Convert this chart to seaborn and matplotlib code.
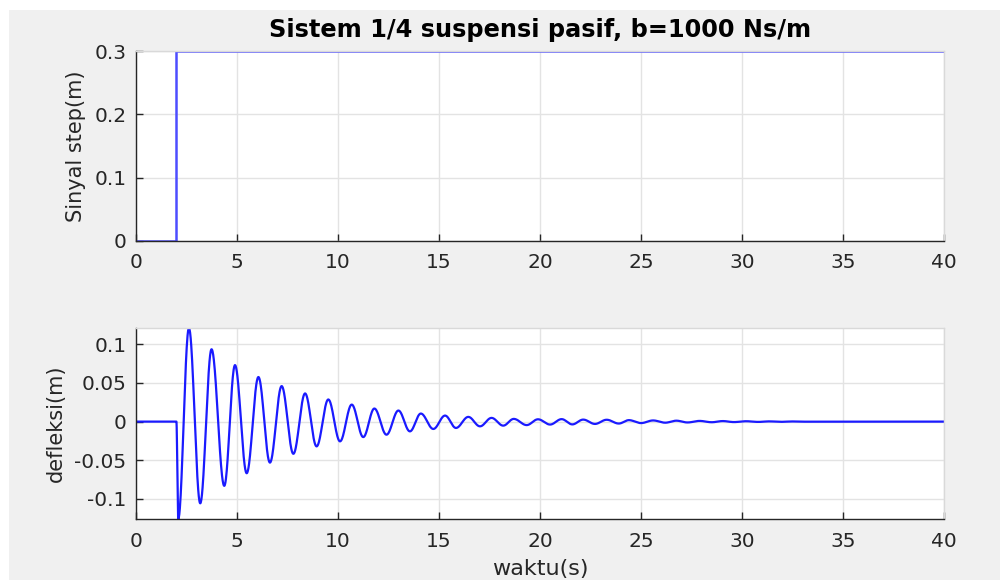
import numpy as np
import pandas as pd
import matplotlib
matplotlib.use("Agg")
import matplotlib.pyplot as plt
from matplotlib.patches import Rectangle
import seaborn as sns

# Step input (road profile)
step_time = [0.0, 2.0, 2.0, 40.0]
step_value = [0.0, 0.0, 0.3, 0.3]

# Body deflection: successive turning points of the damped response
defl_time = [0.0, 2.0, 2.09, 2.62, 3.18, 3.74, 4.37, 4.90, 5.48, 6.06, 6.63,
             7.21, 7.79, 8.37, 8.94, 9.52, 10.10, 10.68, 11.25, 11.80, 12.40,
             12.99, 13.56, 14.10, 14.72, 15.30, 15.84, 16.45, 17.03, 17.60,
             18.18, 18.70, 19.34, 19.90, 20.50, 21.07, 21.60, 22.14, 22.72,
             23.30, 23.90, 24.40, 25.00, 25.60, 26.20, 26.75, 27.30, 27.90,
             28.50, 29.05, 29.60, 30.20, 30.80, 31.35, 31.90, 32.50, 33.10,
             40.0]
defl_value = [0.0, 0.0, -0.126, 0.121, -0.1056, 0.0935, -0.083, 0.073,
              -0.0667, 0.0576, -0.053, 0.0459, -0.0416, 0.0364, -0.032,
              0.0286, -0.0255, 0.022, -0.020, 0.0169, -0.0169, 0.0143,
              -0.0126, 0.0104, -0.0095, 0.0078, -0.0082, 0.0061, -0.0061,
              0.0048, -0.0052, 0.0035, -0.0045, 0.0030, -0.0038, 0.0032,
              -0.0036, 0.0026, -0.0030, 0.0024, -0.0025, 0.0019, -0.0019,
              0.0015, -0.0014, 0.0012, -0.0011, 0.0009, -0.0008, 0.0007,
              -0.0006, 0.0005, -0.0004, 0.0003, -0.0003, 0.0002, -0.0001,
              0.0]

x_ticks = [0, 5, 10, 15, 20, 25, 30, 35, 40]
top_yticks = [0, 0.1, 0.2, 0.3]
top_yticklabels = ["0", "0.1", "0.2", "0.3"]
bot_yticks = [-0.1, -0.05, 0, 0.05, 0.1]
bot_yticklabels = ["-0.1", "-0.05", "0", "0.05", "0.1"]


def smooth_path(tp, vp, n=40):
    """Join turning points with half-cosine arcs."""
    ts, vs = [tp[0]], [vp[0]]
    for (t0, v0, t1, v1) in zip(tp[:-1], vp[:-1], tp[1:], vp[1:]):
        s = np.linspace(0, 1, n)[1:]
        ts.extend(t0 + (t1 - t0) * s)
        vs.extend(v0 + (v1 - v0) * (1 - np.cos(np.pi * s)) / 2)
    return np.array(ts), np.array(vs)


sns.set_theme(style="white")
plt.rcParams["font.family"] = ["DejaVu Sans"]
plt.rcParams["axes.unicode_minus"] = False

fig = plt.figure(figsize=(10, 5.8), dpi=100)
fig.patch.set_facecolor("white")
fig.patches.append(Rectangle((0.009, 0.0), 0.991, 0.983, transform=fig.transFigure,
                             facecolor="#f0f0f0", edgecolor="none", zorder=-10))

ax1 = fig.add_axes([0.136, 0.5845, 0.808, 0.3275])
ax2 = fig.add_axes([0.136, 0.105, 0.808, 0.3295])

text_color = "#262626"
tick_fs = 14.5

step_df = pd.DataFrame({"t": step_time, "y": step_value})
sns.lineplot(data=step_df, x="t", y="y", ax=ax1, color="#4d4dff", lw=1.8,
             estimator=None, sort=False)

tt, yy = smooth_path(defl_time, defl_value)
defl_df = pd.DataFrame({"t": tt, "y": yy})
sns.lineplot(data=defl_df, x="t", y="y", ax=ax2, color="#1a1aff", lw=1.6,
             estimator=None, sort=False)

ax1.set_xlim(0, 40)
ax1.set_ylim(0, 0.3)
ax1.set_yticks(top_yticks)
ax1.set_yticklabels(top_yticklabels)
ax1.set_ylabel("Sinyal step(m)", fontsize=15, labelpad=6, color=text_color)
ax1.set_xlabel("")
ax1.set_title("Sistem 1/4 suspensi pasif, b=1000 Ns/m", fontsize=17.3,
              fontweight="bold", pad=10, color="black")

ax2.set_xlim(0, 40)
ax2.set_ylim(min(defl_value), max(defl_value))
ax2.set_yticks(bot_yticks)
ax2.set_yticklabels(bot_yticklabels)
ax2.set_ylabel("defleksi(m)", fontsize=15, labelpad=6, color=text_color)
ax2.set_xlabel("waktu(s)", fontsize=16, labelpad=6, color=text_color)

for ax in (ax1, ax2):
    ax.set_facecolor("white")
    ax.set_xticks(x_ticks)
    ax.set_xticklabels([str(v) for v in x_ticks])
    ax.grid(True, color="#e3e3e3", lw=1.0)
    ax.set_axisbelow(True)
    for side in ("left", "bottom"):
        ax.spines[side].set_color(text_color)
        ax.spines[side].set_linewidth(1.0)
    for side in ("top", "right"):
        ax.spines[side].set_color("#d9d9d9")
        ax.spines[side].set_linewidth(1.0)
    ax.tick_params(axis="both", direction="in", length=5, width=1,
                   color=text_color, labelsize=tick_fs, labelcolor=text_color,
                   left=True, bottom=True, top=False, right=False)
    ax.tick_params(axis="x", pad=9)
    ax.tick_params(axis="y", pad=7)

fig.savefig("out.png", dpi=100, facecolor=fig.get_facecolor())
